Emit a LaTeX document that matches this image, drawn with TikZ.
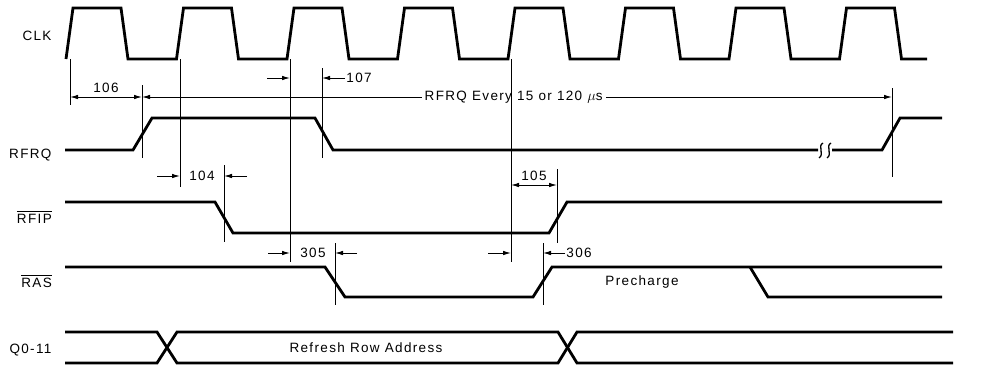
\documentclass[tikz,border=0pt]{standalone}
\usepackage{fontspec}
\setmainfont{Liberation Sans}[LetterSpace=10]
\usetikzlibrary{arrows.meta}

\begin{document}
\begin{tikzpicture}[x=1pt,y=-1pt,font=\fontsize{13.5}{15}\selectfont,
    sig/.style={line width=2.8pt},
    guide/.style={line width=0.9pt},
    dimarrow/.style={guide,-{Latex[length=8pt,width=4.5pt]}},
    dimboth/.style={guide,{Latex[length=8pt,width=4.5pt]}-{Latex[length=8pt,width=4.5pt]}}]
        \useasboundingbox (0,0) rectangle (1006,368);
        %% signal names
        \node[anchor=east] (clkname) at (55,36) {CLK};
        \node[anchor=east] (rfrqname) at (55,155) {RFRQ};
        \node[anchor=east,inner sep=0pt] (rfipname) at (52,219) {RFIP};
        \draw[guide] ([yshift=2.5pt]rfipname.north west) -- ([yshift=2.5pt]rfipname.north east);
        \node[anchor=east,inner sep=0pt] (rasname) at (52,283) {RAS};
        \draw[guide] ([yshift=2.5pt]rasname.north west) -- ([yshift=2.5pt]rasname.north east);
        \node[anchor=east] (qname) at (55,350) {Q0-11};
        %% CLK
        \draw[sig] (66,59) \foreach \k in {0,...,6} {-- ++(7,-51) -- ++(48,0) -- ++(7,51) -- ++(48.5,0)}
            -- ++(7,-51) -- ++(48,0) -- ++(7,51) -- (927,59);
        %% RFRQ
        \draw[sig] (65,150) -- (133,150) -- (152,118) -- (315,118) -- (333,150) -- (818,150);
        \draw[sig] (832,150) -- (882,150) -- (900,118) -- (942,118);
        \draw[line width=1.3pt] (823,143) .. controls (817,146) and (825,154) .. (819,158);
        \draw[line width=1.3pt] (831,143) .. controls (825,146) and (833,154) .. (827,158);
        %% RFIP
        \draw[sig] (65,202) -- (215,202) -- (233,233) -- (549,233) -- (567,202) -- (942,202);
        %% RAS
        \draw[sig] (65,267) -- (325,267) -- (345,297) -- (533,297) -- (552,267) -- (942,267);
        \draw[sig] (750,267) -- (768,297) -- (942,297);
        \node (precharge) at (642,282) {Precharge};
        %% Q0-11
        \draw[sig] (65,332) -- (157,332) -- (177,363) -- (558,363) -- (577,332) -- (953,332);
        \draw[sig] (65,363) -- (157,363) -- (177,332) -- (558,332) -- (577,363) -- (953,363);
        \node (rowaddr) at (366,348) {Refresh Row Address};
        %% dimensions
        \draw[dimboth] (70,97) -- (142,97) node[midway,above=1pt] (t106) {106};
        \draw[dimboth] (142,97) -- (892,97) node[pos=0.4955,fill=white,inner xsep=3pt,inner ysep=1pt] (trfrq) {RFRQ Every 15 or 120 $\mu$s};
        \draw[dimarrow] (267,78) -- (290,78);
        \draw[dimarrow] (345,78) -- (322,78) node[pos=0,anchor=west,inner sep=1pt] (t107) {107};
        \draw[dimarrow] (157,176) -- (180,176);
        \draw[dimarrow] (247,176) -- (224,176);
        \node (t104) at (202,176) {104};
        \draw[dimboth] (511,185) -- (557,185) node[midway,above=1pt] (t105) {105};
        \draw[dimarrow] (268,253) -- (290,253);
        \draw[dimarrow] (357,253) -- (335,253);
        \node (t305) at (313,253) {305};
        \draw[dimarrow] (488,253) -- (511,253);
        \draw[dimarrow] (565,253) -- (543,253) node[pos=0,anchor=west,inner sep=1pt] (t306) {306};
        %% extension lines
        \draw[guide] (70,59) -- (70,105);
        \draw[guide] (142,85) -- (142,158);
        \draw[guide] (180,59) -- (180,187);
        \draw[guide] (290,59) -- (290,262);
        \draw[guide] (322,68) -- (322,158);
        \draw[guide] (511,59) -- (511,262);
        \draw[guide] (892,88) -- (892,177);
        \draw[guide] (224,165) -- (224,242);
        \draw[guide] (557,169) -- (557,243);
        \draw[guide] (335,243) -- (335,305);
        \draw[guide] (543,243) -- (543,305);
\end{tikzpicture}
\end{document}
